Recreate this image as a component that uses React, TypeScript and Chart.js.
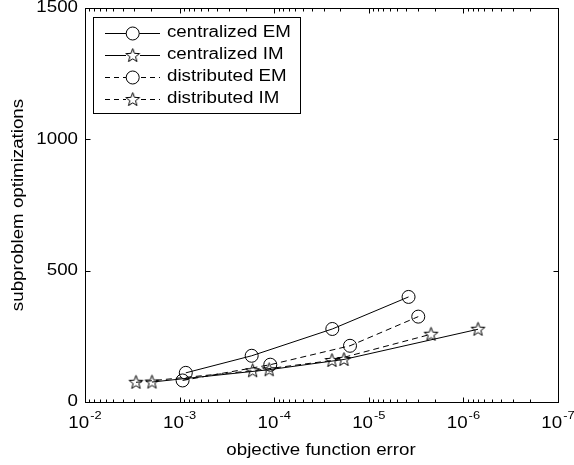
import React, { useEffect, useRef } from "react";
import { Chart, registerables } from "chart.js";

Chart.register(...registerables);

const centralizedEMx = [8.6e-4, 1.73e-4, 2.43e-5, 3.8e-6];
const centralizedEMy = [111, 176, 278, 400];
const centralizedIMx = [1.96e-3, 1.13e-4, 1.83e-5, 7.0e-7];
const centralizedIMy = [76, 123, 162, 277];
const distributedEMx = [9.3e-4, 1.1e-4, 1.58e-5, 3.0e-6];
const distributedEMy = [82, 142, 214, 325];
const distributedIMx = [2.89e-3, 1.69e-4, 2.45e-5, 2.2e-6];
const distributedIMy = [75, 119, 158, 258];

const seriesNames = ["centralized EM", "centralized IM", "distributed EM", "distributed IM"];
const xTickExponents = [-2, -3, -4, -5, -6, -7];
const yTicks = [0, 500, 1000, 1500];
const xTitle = "objective function error";
const yTitle = "subproblem optimizations";

const SX = 1.17;
const FONT = '"Liberation Sans", Arial, Helvetica, sans-serif';
const DASH = [6, 4];

function makeStar(): HTMLCanvasElement {
  const c = document.createElement("canvas");
  c.width = 17;
  c.height = 17;
  const g = c.getContext("2d")!;
  const cx = 8.5, cy = 8.8, ro = 7.2, ri = 3.0;
  g.beginPath();
  for (let i = 0; i < 10; i++) {
    const r = i % 2 === 0 ? ro : ri;
    const a = -Math.PI / 2 + (i * Math.PI) / 5;
    const px = cx + r * Math.cos(a);
    const py = cy + r * Math.sin(a);
    if (i === 0) g.moveTo(px, py);
    else g.lineTo(px, py);
  }
  g.closePath();
  g.strokeStyle = "#000";
  g.lineWidth = 1;
  g.stroke();
  return c;
}

function txt(ctx: CanvasRenderingContext2D, s: string, x: number, y: number, size: number, align: CanvasTextAlign, rot = 0) {
  ctx.save();
  ctx.translate(x, y);
  if (rot) ctx.rotate(rot);
  ctx.scale(SX, 1);
  ctx.font = `${size}px ${FONT}`;
  ctx.fillStyle = "#000";
  ctx.textAlign = align;
  ctx.textBaseline = "middle";
  ctx.fillText(s, 0, 0);
  ctx.restore();
}

function pts(xs: number[], ys: number[]) {
  return xs.map((x, i) => ({ x, y: ys[i] }));
}

export default function App() {
  const ref = useRef<HTMLCanvasElement>(null);
  useEffect(() => {
    const star = makeStar();
    const decor = {
      id: "decor",
      afterDraw(chart: any) {
        const ctx: CanvasRenderingContext2D = chart.ctx;
        const { left, right, top, bottom } = chart.chartArea;
        const xs = chart.scales.x;
        const ys = chart.scales.y;
        const L = Math.round(left) + 0.5, R = Math.round(right) + 0.5;
        const T = Math.round(top) + 0.5, B = Math.round(bottom) + 0.5;
        ctx.save();
        ctx.strokeStyle = "#000";
        ctx.lineWidth = 1;
        ctx.setLineDash([]);
        ctx.strokeRect(L, T, R - L, B - T);
        // x ticks
        ctx.beginPath();
        for (let e = -7; e <= -2; e++) {
          for (let m = 1; m <= 9; m++) {
            if (e === -2 && m > 1) break;
            const v = m * Math.pow(10, e);
            const px = Math.round(xs.getPixelForValue(v)) + 0.5;
            const len = m === 1 ? 5 : 3;
            ctx.moveTo(px, B);
            ctx.lineTo(px, B - len);
            ctx.moveTo(px, T);
            ctx.lineTo(px, T + len);
          }
        }
        for (const v of yTicks) {
          const py = Math.round(ys.getPixelForValue(v)) + 0.5;
          ctx.moveTo(L, py);
          ctx.lineTo(L + 5, py);
          ctx.moveTo(R, py);
          ctx.lineTo(R - 5, py);
        }
        ctx.stroke();
        // y labels
        for (const v of yTicks) {
          txt(ctx, String(v), 78, ys.getPixelForValue(v), 16, "right");
        }
        // x labels
        for (const e of xTickExponents) {
          const px = xs.getPixelForValue(Math.pow(10, e));
          ctx.font = `16px ${FONT}`;
          const w1 = ctx.measureText("10").width * SX;
          ctx.font = `11px ${FONT}`;
          const sup = "-" + String(-e);
          const w2 = ctx.measureText(sup).width * SX;
          const start = px - (w1 + w2 + 1) / 2;
          txt(ctx, "10", start, 424, 16, "left");
          txt(ctx, sup, start + w1 + 1, 416, 11, "left");
        }
        txt(ctx, xTitle, 321, 451, 16, "center");
        txt(ctx, yTitle, 19, 205, 16, "center", -Math.PI / 2);
        // legend
        ctx.fillStyle = "#fff";
        ctx.fillRect(93.5, 17.5, 207, 96);
        ctx.strokeRect(93.5, 17.5, 207, 96);
        seriesNames.forEach((name, i) => {
          const y = 32.5 + i * 22.1;
          const dashed = i >= 2;
          ctx.beginPath();
          ctx.setLineDash(dashed ? [5, 4] : []);
          ctx.moveTo(105, Math.round(y) + 0.5);
          ctx.lineTo(160, Math.round(y) + 0.5);
          ctx.stroke();
          ctx.setLineDash([]);
          if (i % 2 === 0) {
            ctx.fillStyle = "#fff";
            ctx.beginPath();
            ctx.arc(132.7, Math.round(y) + 0.5, 6.5, 0, Math.PI * 2);
            ctx.fill();
            ctx.stroke();
          } else {
            ctx.fillStyle = "#fff";
            ctx.fillRect(126, y - 7, 14, 14);
            ctx.drawImage(star, 132.7 - 8.5, Math.round(y) + 0.5 - 8.5);
          }
          txt(ctx, name, 167, y, 16, "left");
        });
        ctx.restore();
      },
    };
    const common = {
      borderColor: "#000",
      borderWidth: 1,
      pointBorderColor: "#000",
      pointBackgroundColor: "rgba(0,0,0,0)",
      pointBorderWidth: 1,
      fill: false,
      tension: 0,
    };
    const chart = new Chart(ref.current!, {
      type: "line",
      data: {
        datasets: [
          { ...common, label: seriesNames[0], data: pts(centralizedEMx, centralizedEMy), pointStyle: "circle", pointRadius: 6.5 },
          { ...common, label: seriesNames[1], data: pts(centralizedIMx, centralizedIMy), pointStyle: star, pointRadius: 7 },
          { ...common, label: seriesNames[2], data: pts(distributedEMx, distributedEMy), pointStyle: "circle", pointRadius: 6.5, borderDash: DASH },
          { ...common, label: seriesNames[3], data: pts(distributedIMx, distributedIMy), pointStyle: star, pointRadius: 7, borderDash: DASH },
        ] as any,
      },
      options: {
        responsive: false,
        animation: false,
        devicePixelRatio: 1,
        layout: { padding: { left: 0, top: 7, right: 16, bottom: 0 } },
        plugins: { legend: { display: false }, tooltip: { enabled: false } },
        scales: {
          x: {
            type: "logarithmic",
            reverse: true,
            min: 1e-7,
            max: 1e-2,
            grid: { display: false },
            border: { display: false },
            ticks: { display: false },
            afterFit: (s: any) => { s.height = 63; },
          },
          y: {
            type: "linear",
            min: 0,
            max: 1500,
            grid: { display: false },
            border: { display: false },
            ticks: { display: false },
            afterFit: (s: any) => { s.width = 85; },
          },
        } as any,
      },
      plugins: [decor],
    });
    return () => chart.destroy();
  }, []);
  return (
    <div style={{ position: "fixed", left: 0, top: 0, width: 574, height: 465, background: "#fff" }}>
      <canvas ref={ref} width={574} height={465} style={{ width: 574, height: 465 }} />
    </div>
  );
}
